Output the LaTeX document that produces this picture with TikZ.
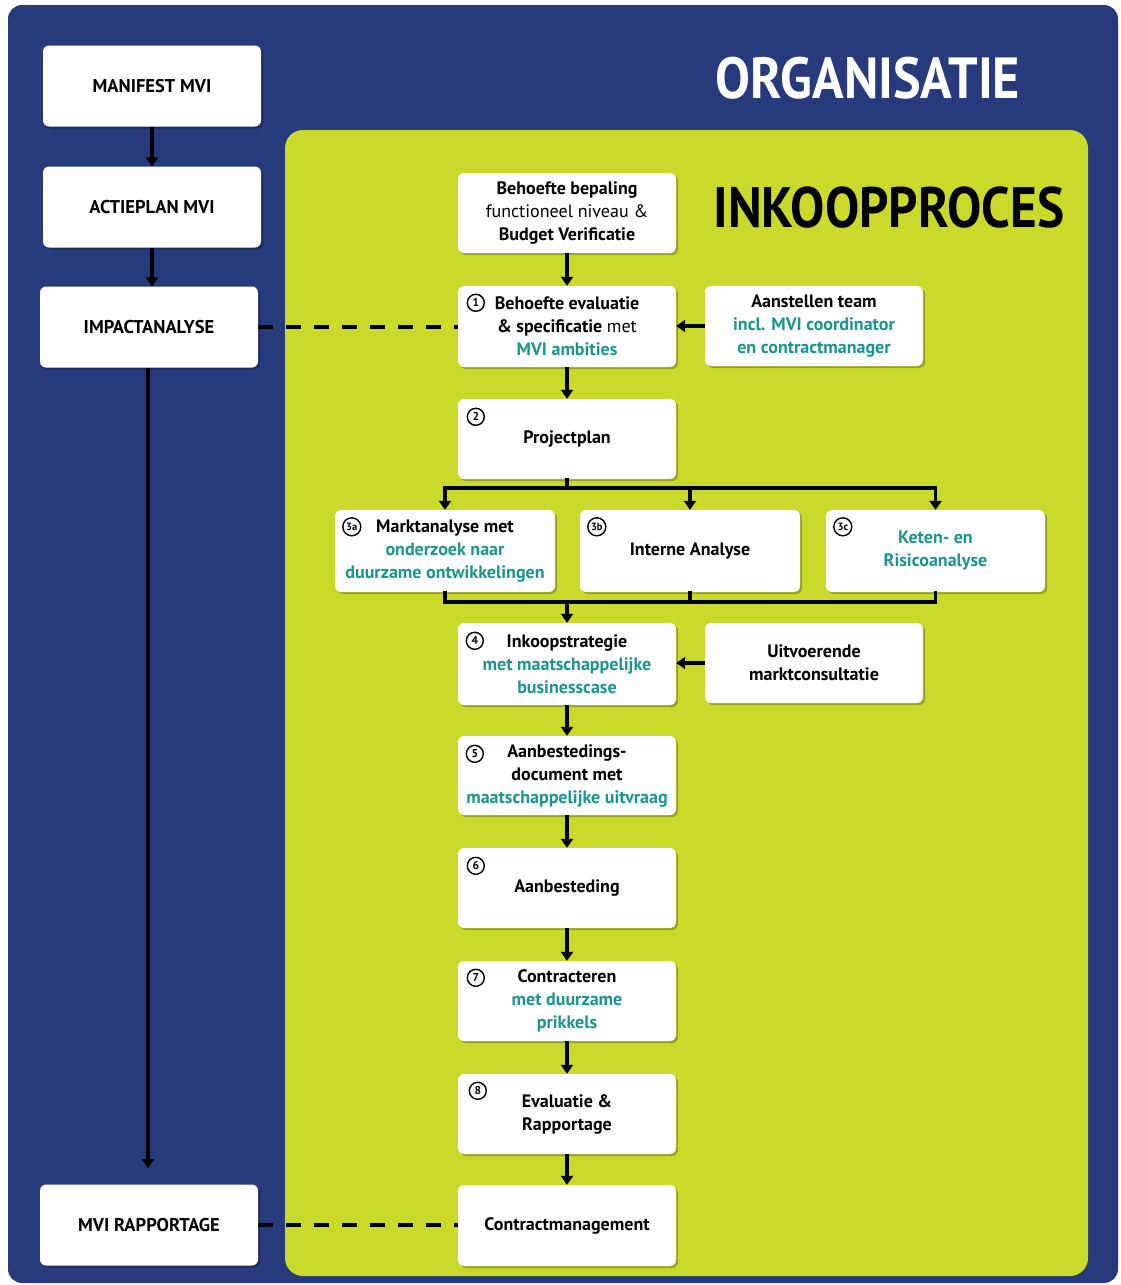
\documentclass[tikz,border=0pt]{standalone}
\usepackage{fontspec}
\setmainfont{PT Sans}
\newfontfamily\titlefont[FakeStretch=0.9]{PT Sans}
\usetikzlibrary{arrows.meta,shadows}
\definecolor{orgblue}{RGB}{38,58,124}
\definecolor{inkgreen}{RGB}{201,218,43}
\definecolor{mviteal}{RGB}{26,150,140}
\newcommand\mvt[1]{\textcolor{mviteal}{#1}}
\begin{document}
\begin{tikzpicture}[x=1pt,y=-1pt,
  box/.style={fill=white, rounded corners=6pt, minimum width=218pt, minimum height=81pt,
    align=center, inner sep=0pt, font=\fontsize{18}{23}\selectfont\bfseries,
    drop shadow={shadow xshift=2pt,shadow yshift=-2pt,opacity=0.25,fill=black}},
  lbox/.style={box, font=\fontsize{18.5}{22}\selectfont\bfseries},
  num/.style={circle, draw=black, line width=1.4pt, minimum size=17pt, inner sep=0pt,
    font=\fontsize{11.5}{11.5}\selectfont\bfseries},
  arr/.style={line width=3.4pt, -{Triangle[width=12pt,length=9pt]}},
  ln/.style={line width=3.4pt, line cap=rect},
  dsh/.style={line width=4pt, dash pattern=on 15pt off 13pt}
]
\fill[white] (0,0) rectangle (1121,1285);
\useasboundingbox (0,0) rectangle (1121,1285);
\fill[orgblue, rounded corners=14pt] (8,5) rectangle (1118,1283);
\fill[inkgreen, rounded corners=18pt] (285,130) rectangle (1088,1276);

\node[anchor=base, text=white, font=\titlefont\bfseries\fontsize{58}{58}\selectfont] (org) at (868,98) {ORGANISATIE};
\node[anchor=base, text=black, font=\titlefont\bfseries\fontsize{57}{57}\selectfont] (ink) at (889,227) {INKOOPPROCES};

% left column
\node[lbox] (man) at (152,86) {MANIFEST MVI};
\node[lbox] (act) at (152,207) {ACTIEPLAN MVI};
\node[lbox] (imp) at (149,327) {IMPACTANALYSE};
\node[lbox] (rap) at (149,1225) {MVI RAPPORTAGE};
\coordinate (lend) at (148,1168);

% center column
\node[box, minimum height=80pt] (beh) at (567,213) {Behoefte bepaling\\{\mdseries functioneel niveau \&}\\Budget Verificatie};
\node[box] (e1) at (567,326.5) {Behoefte evaluatie\\\& specificatie {\mdseries met}\\\mvt{MVI ambities}};
\node[box, minimum height=80pt] (pp) at (567,439) {Projectplan};
\node[box, minimum width=220pt, minimum height=82pt] (a3) at (445,551) {Marktanalyse met\\\mvt{onderzoek naar}\\\mvt{duurzame ontwikkelingen}};
\node[box, minimum width=220pt, minimum height=82pt] (b3) at (690,551) {Interne Analyse};
\node[box, minimum width=219pt, minimum height=82pt] (c3) at (935.5,551) {\mvt{Keten- en}\\\mvt{Risicoanalyse}};
\node[box, minimum height=82pt] (s4) at (567,664) {Inkoopstrategie\\\mvt{met maatschappelijke}\\\mvt{businesscase}};
\node[box, minimum height=79pt] (s5) at (567,775.5) {Aanbestedings-\\document met\\\mvt{maatschappelijke uitvraag}};
\node[box, minimum height=80pt] (s6) at (567,888) {Aanbesteding};
\node[box, minimum height=80pt] (s7) at (567,1001) {Contracteren\\\mvt{met duurzame}\\\mvt{prikkels}};
\node[box, minimum height=80pt] (s8) at (567,1114) {Evaluatie \&\\Rapportage};
\node[box] (cm) at (567,1225.5) {Contractmanagement};

% right column
\node[box, minimum height=80pt] (team) at (814,326) {Aanstellen team\\\mvt{incl. MVI coordinator}\\\mvt{en contractmanager}};
\node[box, minimum height=80pt] (uitv) at (814,663) {Uitvoerende\\marktconsultatie};

% circled numbers
\node[num] (n1) at ([shift={(18,17)}]e1.north west) {1};
\node[num] (n2) at ([shift={(18,18)}]pp.north west) {2};
\node[num, minimum size=18pt, font=\fontsize{10.5}{10.5}\selectfont\bfseries] (n3a) at ([shift={(17,17)}]a3.north west) {3a};
\node[num, minimum size=18pt, font=\fontsize{10.5}{10.5}\selectfont\bfseries] (n3b) at ([shift={(17,17)}]b3.north west) {3b};
\node[num, minimum size=18pt, font=\fontsize{10.5}{10.5}\selectfont\bfseries] (n3c) at ([shift={(17,17)}]c3.north west) {3c};
\node[num] (n4) at ([shift={(17,18)}]s4.north west) {4};
\node[num] (n5) at ([shift={(17,18)}]s5.north west) {5};
\node[num] (n6) at ([shift={(18,18)}]s6.north west) {6};
\node[num] (n7) at ([shift={(18,17)}]s7.north west) {7};
\node[num] (n8) at ([shift={(20,17)}]s8.north west) {8};

% left arrows
\draw[arr] (man.south) -- (man.south |- act.north);
\draw[arr] (act.south) -- (act.south |- imp.north);
\draw[arr] (imp.south -| lend) -- (lend);

% center arrows
\draw[arr] (beh) -- (e1);
\draw[arr] (e1) -- (pp);
\coordinate (bt) at (567,488);
\coordinate (bb) at (567,602);
\draw[ln] (pp.south) -- (bt);
\draw[ln] (a3.north |- bt) -- (c3.north |- bt);
\draw[arr] (a3.north |- bt) -- (a3.north);
\draw[arr] (b3.north |- bt) -- (b3.north);
\draw[arr] (c3.north |- bt) -- (c3.north);
\draw[ln] (a3.south) -- (a3.south |- bb) -- (c3.south |- bb) -- (c3.south);
\draw[ln] (b3.south) -- (b3.south |- bb);
\draw[arr] (bb) -- (s4.north);
\draw[arr] (s4) -- (s5);
\draw[arr] (s5) -- (s6);
\draw[arr] (s6) -- (s7);
\draw[arr] (s7) -- (s8);
\draw[arr] (s8) -- (cm);

% side arrows
\draw[arr] (team.west) -- (team.west -| e1.east);
\draw[arr] (uitv.west) -- (uitv.west -| s4.east);

% dashed links
\draw[dsh] (imp.east) -- (imp.east -| e1.west);
\draw[dsh] (rap.east) -- (rap.east -| cm.west);
\end{tikzpicture}
\end{document}
